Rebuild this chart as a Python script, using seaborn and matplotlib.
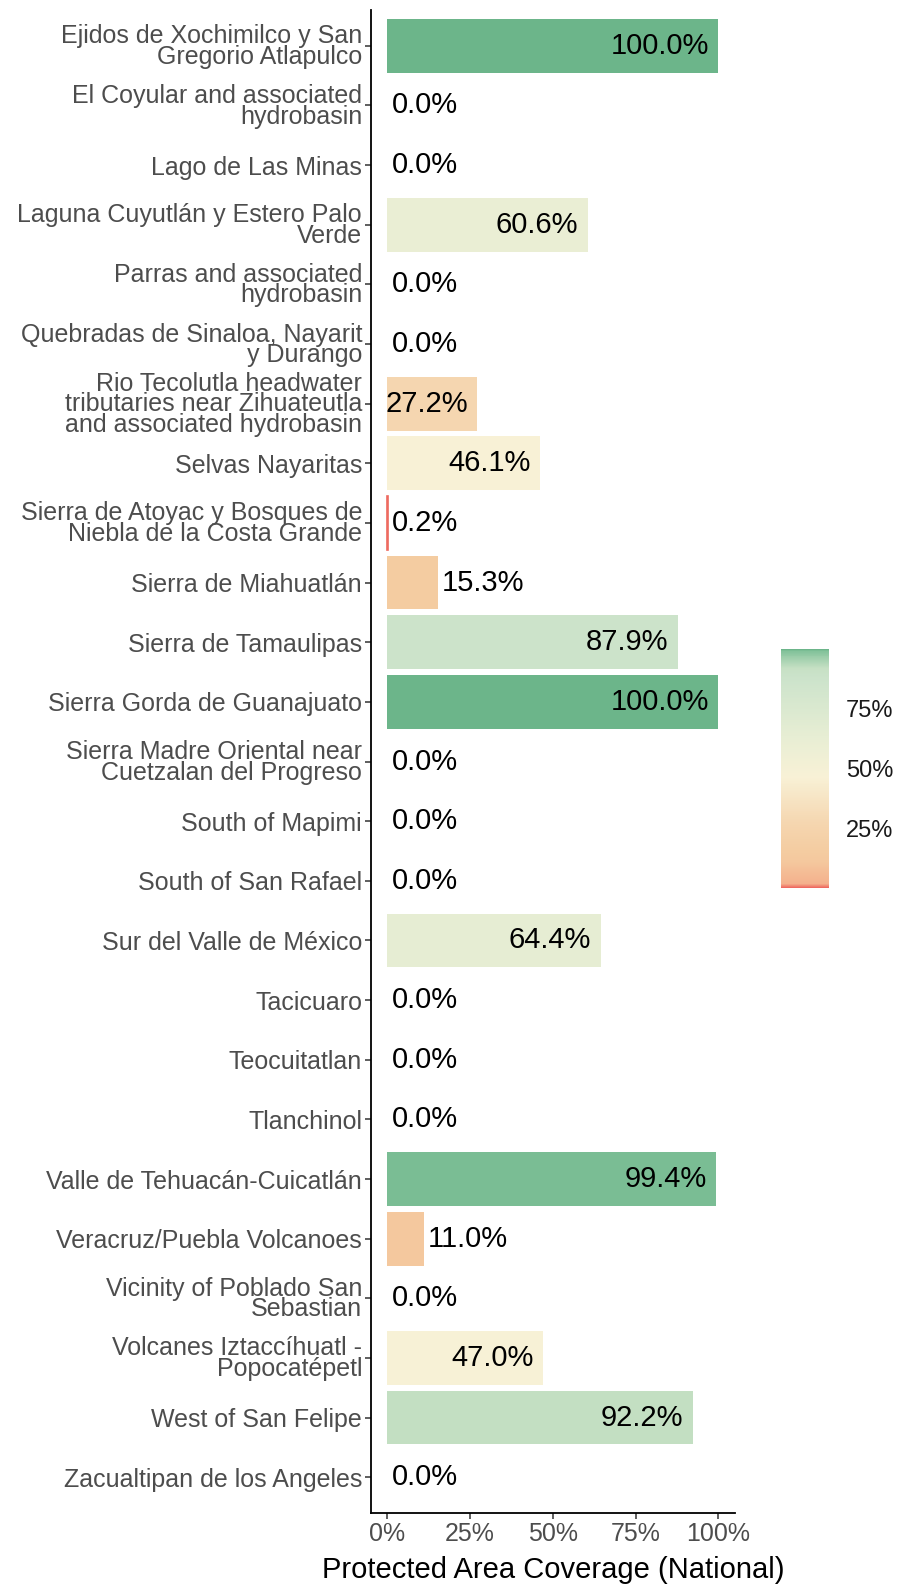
import matplotlib
matplotlib.use("Agg")
from matplotlib import pyplot as plt
from matplotlib.colors import LinearSegmentedColormap, Normalize
from matplotlib.cm import ScalarMappable
import numpy as np
import pandas as pd
import seaborn as sns

# data
sites = [
    "Ejidos de Xochimilco y San\nGregorio Atlapulco",
    "El Coyular and associated\nhydrobasin",
    "Lago de Las Minas",
    "Laguna Cuyutlán y Estero Palo\nVerde",
    "Parras and associated\nhydrobasin",
    "Quebradas de Sinaloa, Nayarit\ny Durango",
    "Rio Tecolutla headwater\ntributaries near Zihuateutla\nand associated hydrobasin",
    "Selvas Nayaritas",
    "Sierra de Atoyac y Bosques de\nNiebla de la Costa Grande",
    "Sierra de Miahuatlán",
    "Sierra de Tamaulipas",
    "Sierra Gorda de Guanajuato",
    "Sierra Madre Oriental near\nCuetzalan del Progreso",
    "South of Mapimi",
    "South of San Rafael",
    "Sur del Valle de México",
    "Tacicuaro",
    "Teocuitatlan",
    "Tlanchinol",
    "Valle de Tehuacán-Cuicatlán",
    "Veracruz/Puebla Volcanoes",
    "Vicinity of Poblado San\nSebastian",
    "Volcanes Iztaccíhuatl -\nPopocatépetl",
    "West of San Felipe",
    "Zacualtipan de los Angeles",
]
coverage = [100.0, 0.0, 0.0, 60.6, 0.0, 0.0, 27.2, 46.1, 0.2, 15.3, 87.9, 100.0,
            0.0, 0.0, 0.0, 64.4, 0.0, 0.0, 0.0, 99.4, 11.0, 0.0, 47.0, 92.2, 0.0]
pct_ticks = [0, 25, 50, 75, 100]
pct_labels = ["0%", "25%", "50%", "75%", "100%"]
legend_ticks = [25, 50, 75]
legend_labels = ["25%", "50%", "75%"]

df = pd.DataFrame({"site": sites, "coverage": coverage})

# fill scale (colours)
cmap = LinearSegmentedColormap.from_list("cov", [
    (0.0, "#ee6a60"), (0.015, "#f4b08c"), (0.11, "#f4c89e"), (0.153, "#f4cca1"),
    (0.272, "#f5d6b0"), (0.465, "#f8f1d6"), (0.625, "#e8eed4"), (0.879, "#cce3cb"),
    (0.922, "#c6e0c4"), (0.994, "#82c29a"), (1.0, "#6cb58a")])
norm = Normalize(0, 100)

sns.set_style("white")
plt.rcParams["font.family"] = ["Liberation Sans", "DejaVu Sans"]

fig = plt.figure(figsize=(8.98, 15.92), dpi=100)
ax = fig.add_axes([0.413, 0.0496, 0.4055, 0.9441])

sns.barplot(data=df, x="coverage", y="site", hue="site",
            palette=[cmap(norm(v)) for v in coverage], saturation=1, dodge=False,
            legend=False, width=0.9, orient="h", linewidth=0, ax=ax)

# very thin bars (0.2%) get an edge in their own colour so they stay visible
for p in ax.patches:
    w = p.get_width()
    if 0 < w < 1:
        p.set_edgecolor(p.get_facecolor())
        p.set_linewidth(1.2)

for i, v in enumerate(coverage):
    if v >= 20:
        ax.annotate(f"{v:.1f}%", xy=(v, i), xytext=(-7, 0), textcoords="offset points",
                    ha="right", va="center", fontsize=21, color="black")
    else:
        ax.annotate(f"{v:.1f}%", xy=(v, i), xytext=(3, 0), textcoords="offset points",
                    ha="left", va="center", fontsize=21, color="black")

ax.set_xlim(-5, 105)
ax.set_ylim(len(sites) - 0.4, -0.6)
ax.set_xticks(pct_ticks)
ax.set_xticklabels(pct_labels)
ax.set_xlabel("Protected Area Coverage (National)", fontsize=21, color="black", labelpad=7)
ax.set_ylabel("")
for lab in ax.get_yticklabels():
    lab.set_linespacing(0.82)
ax.tick_params(axis="both", labelsize=18, labelcolor="#4d4d4d", color="#333333",
               length=4.3, width=1.1, left=True, bottom=True, pad=2)
sns.despine(ax=ax)
for s in ["left", "bottom"]:
    ax.spines[s].set_color("black")
    ax.spines[s].set_linewidth(1.3)

# colour bar legend
cax = fig.add_axes([781 / 898, 1 - 888 / 1592, 48 / 898, 239 / 1592])
cb = fig.colorbar(ScalarMappable(norm=norm, cmap=cmap), cax=cax)
cb.outline.set_visible(False)
cb.set_ticks(legend_ticks)
cb.set_ticklabels(legend_labels)
cax.tick_params(direction="in", color="white", length=6, width=1.2,
                labelsize=17, labelcolor="#1a1a1a", left=True, right=True, pad=12)

fig.savefig("out.png", dpi=100)
